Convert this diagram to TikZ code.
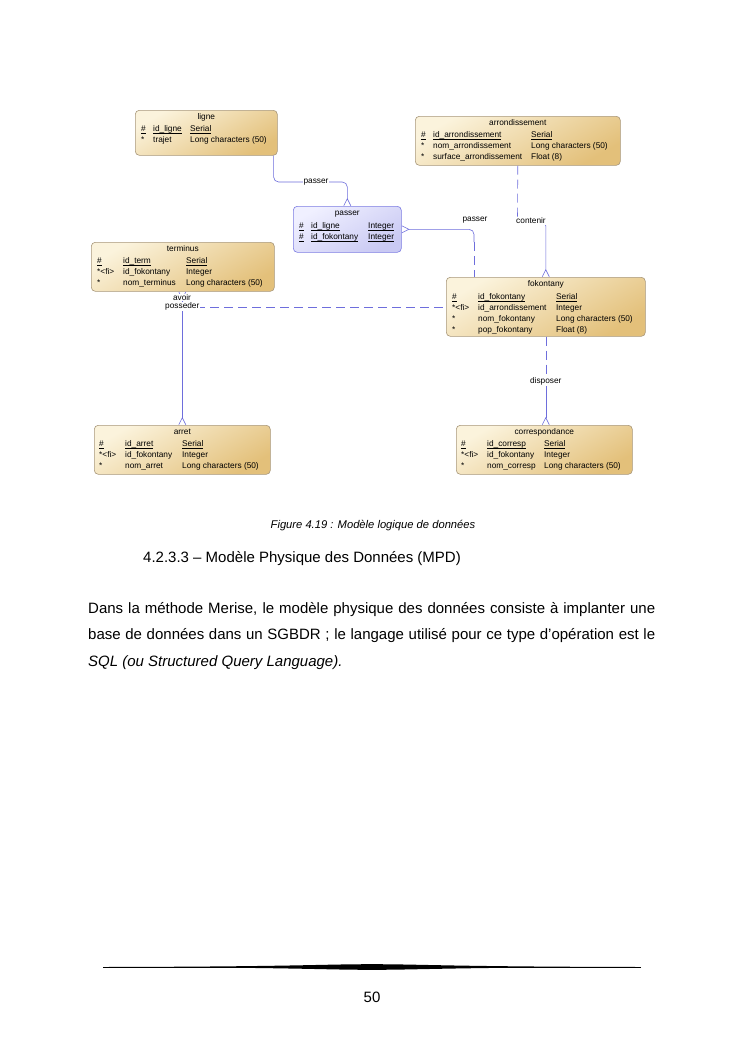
\documentclass[tikz,border=0pt]{standalone}
\usepackage{fontspec}
\setmainfont{Liberation Sans}
\usetikzlibrary{arrows.meta, positioning}

\definecolor{entclair}{HTML}{FBF3DC}
\definecolor{entfonce}{HTML}{E3C07A}
\definecolor{entbord}{HTML}{A8977A}
\definecolor{assclair}{HTML}{F0F0FF}
\definecolor{assfonce}{HTML}{C9C9F3}
\definecolor{assbord}{HTML}{7C7CE2}
\definecolor{lienc}{HTML}{6E6EDC}

\newcommand{\cle}[1]{\underline{\smash{#1}}}

\tikzset{
  entite/.style={draw=entbord, line width=0.6pt, top color=entclair, bottom color=entfonce,
    shading angle=30, rounded corners=4pt, anchor=north west, inner sep=0pt},
  assoc/.style={entite, draw=assbord, top color=assclair, bottom color=assfonce, shading angle=30},
  titre/.style={inner sep=0pt, text height=7.7pt, text depth=3.3pt, font=\fontsize{8.3}{11}\selectfont},
  attributs/.style={anchor=north west, inner sep=0pt, font=\fontsize{8.3}{11}\selectfont},
  lien/.style={draw=lienc, line width=0.6pt, rounded corners=5pt},
  optionnel/.style={lien, dash pattern=on 9pt off 5pt},
  pied/.style={-{Straight Barb[reversed, length=7pt, width=7pt]}},
  piedd/.style={{Straight Barb[reversed, length=7pt, width=7pt]}-},
  etiq/.style={fill=white, inner sep=0.6pt, font=\fontsize{8.3}{9}\selectfont},
  texte/.style={inner sep=0pt, font=\fontsize{15}{26.5}\selectfont}
}

\begin{document}
\begin{tikzpicture}[x=1pt, y=-1pt]
  % 0. la page
  \fill[white] (0,0) rectangle (745,1053);
  \useasboundingbox (0,0) rectangle (745,1053);

  % 1. les entites
  \node[entite, minimum width=142pt, minimum height=45pt] (ligne) at (135,110) {};
  \node[entite, minimum width=205pt, minimum height=49pt] (arrondissement) at (415,116) {};
  \node[entite, minimum width=183pt, minimum height=49pt] (terminus) at (91,242) {};
  \node[assoc, minimum width=108pt, minimum height=46pt] (passer) at (293,206) {};
  \node[entite, minimum width=199pt, minimum height=59pt] (fokontany) at (446,277) {};
  \node[entite, minimum width=176pt, minimum height=49pt] (arret) at (94,425) {};
  \node[entite, minimum width=176pt, minimum height=49pt] (correspondance) at (456,425) {};

  % 2. les titres
  \foreach \e in {ligne, arrondissement, terminus, passer, fokontany, arret, correspondance}
    \node[titre] (\e-t) at ([shift={(0,7.5)}]\e.north) {\e};

  % 3. les attributs
  \node[attributs] (ligne-a) at ([shift={(6,13.5)}]ligne.north west) {%
    \begin{tabular}{@{}p{12pt}@{}p{37pt}@{}l@{}}
      \cle{\#} & \cle{id\_ligne} & \cle{Serial}\\
      {*} & trajet & Long characters (50)
    \end{tabular}};
  \node[attributs] (arrondissement-a) at ([shift={(6,13.5)}]arrondissement.north west) {%
    \begin{tabular}{@{}p{12pt}@{}p{98pt}@{}l@{}}
      \cle{\#} & \cle{id\_arrondissement} & \cle{Serial}\\
      {*} & nom\_arrondissement & Long characters (50)\\
      {*} & surface\_arrondissement & Float (8)
    \end{tabular}};
  \node[attributs] (terminus-a) at ([shift={(6,13.5)}]terminus.north west) {%
    \begin{tabular}{@{}p{26pt}@{}p{63pt}@{}l@{}}
      \cle{\#} & \cle{id\_term} & \cle{Serial}\\
      {*}<fi> & id\_fokontany & Integer\\
      {*} & nom\_terminus & Long characters (50)
    \end{tabular}};
  \node[attributs] (passer-a) at ([shift={(6,14.5)}]passer.north west) {%
    \begin{tabular}{@{}p{12pt}@{}p{57pt}@{}l@{}}
      \cle{\#} & \cle{id\_ligne} & \cle{Integer}\\
      \cle{\#} & \cle{id\_fokontany} & \cle{Integer}
    \end{tabular}};
  \node[attributs] (fokontany-a) at ([shift={(6,14.5)}]fokontany.north west) {%
    \begin{tabular}{@{}p{26pt}@{}p{78pt}@{}l@{}}
      \cle{\#} & \cle{id\_fokontany} & \cle{Serial}\\
      {*}<fi> & id\_arrondissement & Integer\\
      {*} & nom\_fokontany & Long characters (50)\\
      {*} & pop\_fokontany & Float (8)
    \end{tabular}};
  \node[attributs] (arret-a) at ([shift={(5,13.5)}]arret.north west) {%
    \begin{tabular}{@{}p{26pt}@{}p{57pt}@{}l@{}}
      \cle{\#} & \cle{id\_arret} & \cle{Serial}\\
      {*}<fi> & id\_fokontany & Integer\\
      {*} & nom\_arret & Long characters (50)
    \end{tabular}};
  \node[attributs] (correspondance-a) at ([shift={(5,13.5)}]correspondance.north west) {%
    \begin{tabular}{@{}p{26pt}@{}p{57pt}@{}l@{}}
      \cle{\#} & \cle{id\_corresp} & \cle{Serial}\\
      {*}<fi> & id\_fokontany & Integer\\
      {*} & nom\_corresp & Long characters (50)
    \end{tabular}};

  % 4. les points de passage des liens
  \coordinate (c1) at (316,182);
  \coordinate (c2) at (474,242);
  \coordinate (c3) at (517.5,221);
  \coordinate (c4) at (arret.north |- fokontany.west);
  \coordinate (c6) at ([shift={(0,45)}]fokontany.south);

  % 5. les liens
  \draw[lien, pied] ([xshift=-4pt]ligne.south east) |- (c1) -| (passer.north);
  \draw[lien, piedd] (passer.east) -| (c2);
  \draw[optionnel] (c2) -- (c2 |- fokontany.north);
  \draw[optionnel] (arrondissement.south) -- (c3);
  \draw[lien, pied] (c3) -| (fokontany.north);
  \draw[lien, piedd] (c4 |- terminus.south) -- (c4);
  \draw[optionnel] (c4) -- (fokontany.west);
  \draw[lien, pied] (c4) -- (arret.north);
  \draw[optionnel] (fokontany.south) -- (c6);
  \draw[lien, pied] (c6) -- (c6 |- correspondance.north);

  % 6. les noms des associations
  \node[etiq] (l1) at (c1) {passer};
  \node[etiq] (l2) at (475,220) {passer};
  \node[etiq] (l3) at (531,221) {contenir};
  \node[etiq] (l4) at (182,297.5) {avoir};
  \node[etiq] (l5) at (c4) {posseder};
  \node[etiq] (l6) at (c6) {disposer};

  % 7. le texte de la page
  \node[inner sep=0pt, anchor=base, font=\fontsize{11.2}{13}\selectfont\itshape] (legende)
    at (373,528) {Figure 4.19 : Modèle logique de données};
  \node[texte, anchor=base west] (section) at (143,562)
    {4.2.3.3 – Modèle Physique des Données (MPD)};
  \node[texte, anchor=north west, text width=567pt, align=justify] (para) at (88,602)
    {Dans la méthode Merise, le modèle physique des données consiste à implanter une\linebreak
     base de données dans un SGBDR ; le langage utilisé pour ce type d'opération est le\linebreak
     \textit{SQL (ou Structured Query Language).}};

  % 8. le filet et le numero de page
  \draw[line width=0.7pt] (103,967) -- (641,967);
  \fill (103,967) .. controls (300,966.6) and (320,964.2) .. (372,964.2)
        .. controls (424,964.2) and (444,966.6) .. (641,967)
        .. controls (444,967.4) and (424,969.8) .. (372,969.8)
        .. controls (320,969.8) and (300,967.4) .. (103,967) -- cycle;
  \node[texte, anchor=base] (page) at (372,1002) {50};
\end{tikzpicture}
\end{document}
